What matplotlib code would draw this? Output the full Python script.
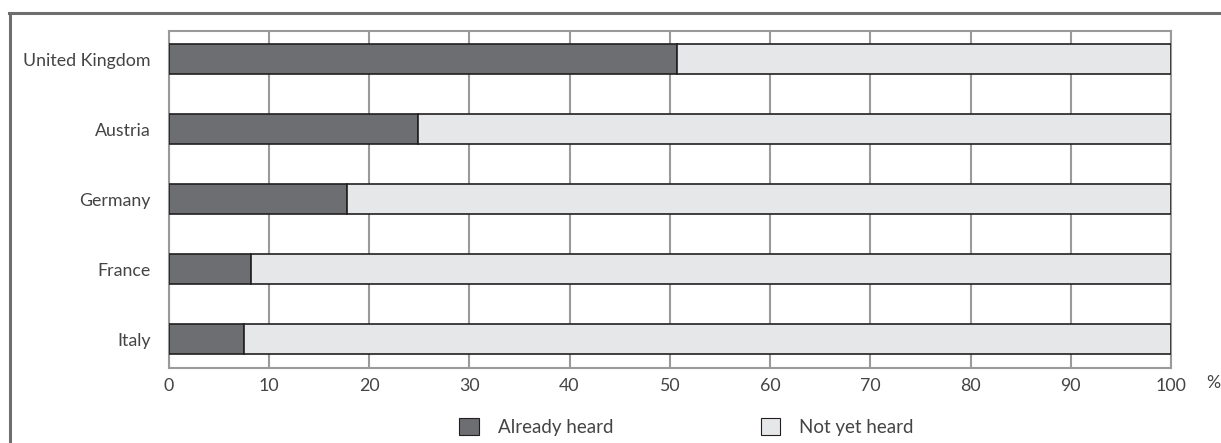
import matplotlib
matplotlib.use("Agg")
import matplotlib.pyplot as plt
from matplotlib.patches import Patch
from matplotlib.lines import Line2D

countries = ["United Kingdom", "Austria", "Germany", "France", "Italy"]
already_heard = [50.7, 24.9, 17.8, 8.2, 7.5]
not_yet_heard = [100 - v for v in already_heard]
x_ticks = [0, 10, 20, 30, 40, 50, 60, 70, 80, 90, 100]
legend_labels = ["Already heard", "Not yet heard"]

dark = "#6d6e71"
light = "#e6e7e8"
edge = "#231f20"
gridc = "#9a9a9a"
textc = "#444444"

plt.rcParams['font.family'] = ['Lato', 'DejaVu Sans']
plt.rcParams['font.weight'] = 'normal'

fig = plt.figure(figsize=(12.21, 4.43), dpi=100)
ax = fig.add_axes([168.5/1221, 1-368/443, (1171-168.5)/1221, (368-31)/443])

ypos = list(range(len(countries)))[::-1]
ax.barh(ypos, already_heard, height=0.43, color=dark, edgecolor=edge, linewidth=1.2, zorder=3)
ax.barh(ypos, not_yet_heard, left=already_heard, height=0.43, color=light, edgecolor=edge, linewidth=1.2, zorder=3)

ax.set_xlim(0, 100)
ax.set_ylim(-0.414, 4.4)
ax.set_xticks(x_ticks)
ax.set_xticklabels([str(t) for t in x_ticks])
ax.set_yticks(ypos)
ax.set_yticklabels(countries)
ax.tick_params(axis='both', length=0, labelsize=12.8, colors=textc)
ax.tick_params(axis='y', pad=13)
ax.tick_params(axis='x', pad=7)
ax.xaxis.grid(True, color=gridc, linewidth=1.5, zorder=0)
ax.set_axisbelow(True)
for s in ax.spines.values():
    s.set_color(gridc)
    s.set_linewidth(1.5)

ax.text(1.042, -7/337, "%", transform=ax.transAxes, ha='center', va='top', fontsize=12.8, color=textc)

handles = [Patch(facecolor=dark, edgecolor=edge, linewidth=0.8),
           Patch(facecolor=light, edgecolor=edge, linewidth=0.8)]
fig.legend(handles, legend_labels, loc='center', bbox_to_anchor=(686.5/1221, 1-427/443),
           ncol=2, frameon=False, fontsize=13.5, handlelength=1.05, handleheight=1.05,
           handletextpad=1.0, columnspacing=7.87, labelcolor=textc)

fig.add_artist(Line2D([10/1221, 10/1221], [0, 1-13/443], color="#6e6e6e", linewidth=2.2, transform=fig.transFigure))
fig.add_artist(Line2D([9/1221, 1.0], [1-13/443, 1-13/443], color="#6e6e6e", linewidth=2.2, transform=fig.transFigure))

fig.savefig("out.png", dpi=100)
